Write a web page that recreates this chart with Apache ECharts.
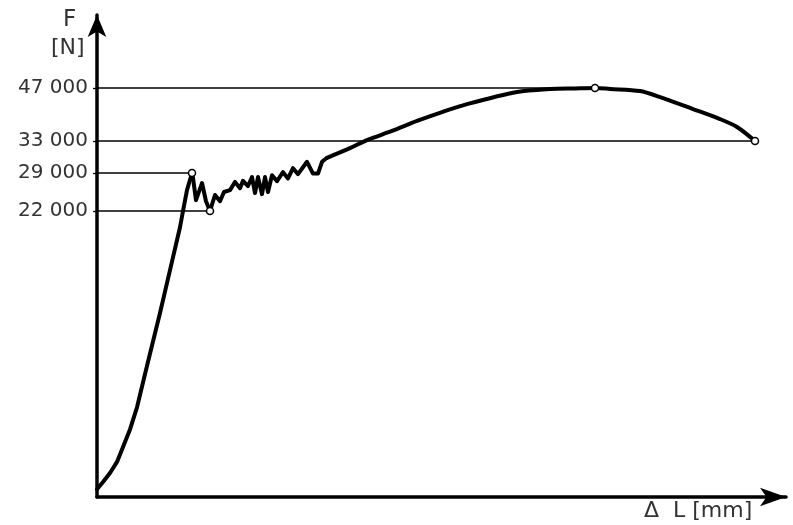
<!DOCTYPE html>
<html><head><meta charset="utf-8">
<script src="https://cdn.jsdelivr.net/npm/echarts@6/dist/echarts.min.js"></script>
<style>html,body{margin:0;padding:0;background:#fff}#c{width:793px;height:525px}</style>
</head><body><div id="c"></div>
<script>
// labelled force levels [N]
const tickForces = [22000, 29000, 33000, 47000];
const tickLabels = ['22 000', '29 000', '33 000', '47 000'];

// curve, [ΔL (arbitrary), F (N)]
const risePoints = [
  [0, 600], [0.6, 1150], [1.3, 1850], [2.0, 2700], [2.6, 3850], [3.3, 5200], [4.0, 6900],
  [5.1, 10400], [6.3, 14150], [7.3, 17450], [8.3, 20750], [8.6, 22000], [9.0, 25850], [9.5, 29000]
];
const yieldPoints = [
  [9.5, 29000], [9.6, 28100], [9.9, 24000], [10.5, 27150], [10.9, 23800], [11.3, 22000],
  [11.8, 24950], [12.3, 23800], [12.7, 25500], [13.3, 25850], [13.8, 27350], [14.3, 26200],
  [14.6, 27550], [15.1, 26600], [15.5, 28250], [15.8, 25300], [16.1, 28250], [16.5, 25100],
  [16.8, 28250], [17.1, 25500], [17.5, 28600], [18.0, 27500], [18.6, 29100], [19.1, 28000],
  [19.6, 29600], [20.1, 28800], [21.0, 30400], [21.6, 28900], [22.1, 28900], [22.5, 30400],
  [23.0, 30900]
];
const hardeningPoints = [
  [23.0, 30900], [25.3, 32100], [27.0, 33250], [29.5, 35650], [32.0, 38300], [34.5, 40650],
  [37.0, 42750], [42.0, 45950], [45.3, 46750], [47.8, 46900], [49.8, 47000], [51.3, 46750],
  [54.3, 46200], [56.3, 44600], [59.6, 41450], [62.3, 38800], [64.0, 36700], [65.8, 33000]
];
// marked points: upper yield, lower yield, max force, break
const keyPoints = [[9.5, 29000], [11.3, 22000], [49.8, 47000], [65.8, 33000]];

// schematic (non-linear) force scale: anchor forces and their axis positions
const scaleForces = [0, 22000, 29000, 33000, 47000, 60000];
const scalePos = [0, 286, 324, 356, 409, 462];
function toAxis(f) {
  for (let i = 1; i < scaleForces.length; i++) {
    if (f <= scaleForces[i] || i === scaleForces.length - 1) {
      const t = (f - scaleForces[i - 1]) / (scaleForces[i] - scaleForces[i - 1]);
      return scalePos[i - 1] + t * (scalePos[i] - scalePos[i - 1]);
    }
  }
}
const conv = arr => arr.map(p => [p[0], toAxis(p[1])]);
const tickPos = tickForces.map(toAxis);

const refSeries = keyPoints.map(p => ({
  type: 'line', silent: true, symbol: 'none', z: 1,
  lineStyle: { color: '#000', width: 1.3 },
  data: [[0, toAxis(p[1])], [p[0], toAxis(p[1])]]
}));
const curveStyle = { color: '#000', width: 4, join: 'round', cap: 'round' };

const chart = echarts.init(document.getElementById('c'));
chart.setOption({
  backgroundColor: '#fff',
  animation: false,
  grid: { left: 97, right: 7, top: 15, bottom: 28 },
  xAxis: {
    type: 'value', min: 0, max: 68.9,
    axisLine: { show: true, onZero: false, lineStyle: { color: '#000', width: 3.5 }, symbol: ['none', 'arrow'], symbolSize: [14, 26] },
    axisTick: { show: false }, axisLabel: { show: false }, splitLine: { show: false }
  },
  yAxis: {
    type: 'value', min: 0, max: 482,
    axisLine: { show: true, onZero: false, lineStyle: { color: '#000', width: 3.5 }, symbol: ['none', 'arrow'], symbolSize: [14, 22] },
    axisTick: { show: true, length: 4, customValues: tickPos, lineStyle: { color: '#000', width: 1.3 } },
    axisLabel: {
      show: true, customValues: tickPos, margin: 9,
      fontFamily: 'DejaVu Sans', fontSize: 20, color: '#333',
      formatter: v => {
        const i = tickPos.findIndex(t => Math.abs(t - v) < 0.01);
        return i >= 0 ? tickLabels[i] : '';
      }
    },
    splitLine: { show: false }
  },
  graphic: [
    { type: 'text', left: 63, top: 9, style: { text: 'F', fontFamily: 'DejaVu Sans', fontSize: 23, fill: '#333' } },
    { type: 'text', left: 51, top: 37, style: { text: '[N]', fontFamily: 'DejaVu Sans', fontSize: 22, fill: '#333' } },
    { type: 'text', left: 644, top: 500, style: { text: 'Δ  L [mm]', fontFamily: 'DejaVu Sans', fontSize: 22, fill: '#333' } }
  ],
  series: refSeries.concat([
    { type: 'line', symbol: 'none', smooth: false, z: 3, lineStyle: curveStyle, data: conv(risePoints) },
    { type: 'line', symbol: 'none', smooth: false, z: 3, lineStyle: curveStyle, data: conv(yieldPoints) },
    { type: 'line', symbol: 'none', smooth: 0.3, z: 3, lineStyle: curveStyle, data: conv(hardeningPoints) },
    { type: 'scatter', z: 5, symbol: 'circle', symbolSize: 7,
      itemStyle: { color: '#fff', borderColor: '#000', borderWidth: 1.5, opacity: 1 },
      data: conv(keyPoints) }
  ])
});
</script></body></html>
